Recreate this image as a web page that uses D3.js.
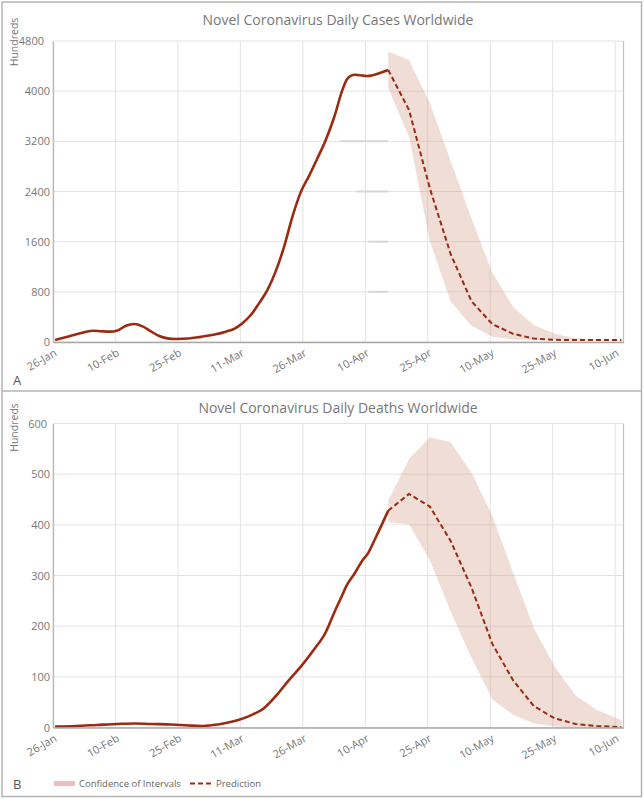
<!DOCTYPE html>
<html><head><meta charset="utf-8">
<script src="https://cdn.jsdelivr.net/npm/d3@7"></script>
<style>
body{margin:0;background:#fff;}
svg{display:block;font-family:"Open Sans",sans-serif;}
</style></head><body>
<svg id="c" width="644" height="799"></svg>
<script>
// ---- data (day index 0 = 26-Jan) ----
const tickDays = [0,15,30,45,60,75,90,105,120,135];
const tickLabels = ["26-Jan","10-Feb","25-Feb","11-Mar","26-Mar","10-Apr","25-Apr","10-May","25-May","10-Jun"];

const casesTicks = [0,800,1600,2400,3200,4000,4800];
const deathsTicks = [0,100,200,300,400,500,600];

const casesDays   = [0,3,6,9,11,13,15,17,19,21,23,25,27,29,32,35,38,41,43,45,47,49,51,53,55,57,59,61,63,65,67,69,70,71,72,74,75,78,80];
const casesValues = [30,85,140,180,172,165,185,260,287,250,170,95,58,48,55,82,115,165,210,300,430,620,830,1130,1520,2000,2390,2650,2930,3222,3580,4020,4180,4245,4262,4248,4243,4290,4338];

const deathsDays   = [0,5,10,15,19,23,28,32,35,38,41,44,47,50,53,56,59,62,65,67,69,70,72,74,75,77,80];
const deathsValues = [2,3,5,7,8,7,6,4,3,5,9,15,24,37,62,92,120,152,188,226,262,280,305,332,342,375,428];

const predDays    = [80,85,90,95,100,105,110,115,120,125,130,135,136];
const casesPred   = [4338,3700,2450,1400,650,285,130,55,35,31,30,30,30];
const casesUpper  = [4630,4498,3808,2888,1969,1103,559,267,132,60,38,30,30];
const casesLower  = [4046,3275,1611,640,260,85,40,30,30,30,30,30,30];

const deathsPred  = [428,461,436,368,276,165,93,42,18,7,3,1,1];
const deathsUpper = [448,530,573,563,503,418,305,196,120,63,35,18,15];
const deathsLower = [405,401,330,229,137,56,25,8,2,0,0,0,0];

// odd darker grid fragments in panel A (value, start day)
const fragValues = [3200,2400,1600,800];
const fragStart  = [68.5,72.3,75.2,75.2];

// ---- drawing ----
const svg = d3.select("#c");
const LINE = "#9c2a10";
const BAND = "rgb(202,142,118)";
const GRID = "#e3e3e3";
const TXT = "#777";

svg.append("rect").attr("x",2).attr("y",2).attr("width",639.5).attr("height",794.5)
  .attr("fill","none").attr("stroke","#b4b4b4").attr("stroke-width",1.5);
svg.append("line").attr("x1",2).attr("x2",641.5).attr("y1",391).attr("y2",391)
  .attr("stroke","#b4b4b4").attr("stroke-width",1.5);

const x = d3.scaleLinear().domain([0,137]).range([53,623.5]);
const px = d => x(d + 0.5);

function panel(o){
  const y = d3.scaleLinear().domain([0, o.ticks[o.ticks.length-1]]).range([o.bottom, o.top]);
  const g = svg.append("g");
  // grid
  g.selectAll(".hg").data(o.ticks).join("line")
    .attr("x1",x(0)).attr("x2",x(137)).attr("y1",d=>y(d)).attr("y2",d=>y(d))
    .attr("stroke",GRID).attr("stroke-width",1);
  g.selectAll(".vg").data(tickDays).join("line")
    .attr("x1",d=>x(d)).attr("x2",d=>x(d)).attr("y1",o.top).attr("y2",o.bottom)
    .attr("stroke",GRID).attr("stroke-width",1);
  if(o.frags){
    g.selectAll(".fr").data(o.frags.v).join("line")
      .attr("x1",(d,i)=>px(o.frags.s[i])).attr("x2",px(predDays[0]))
      .attr("y1",d=>y(d)).attr("y2",d=>y(d))
      .attr("stroke","#d6d6d6").attr("stroke-width",2);
  }
  // right border
  g.append("line").attr("x1",x(137)).attr("x2",x(137)).attr("y1",o.top).attr("y2",o.bottom)
    .attr("stroke","#c4c4c4").attr("stroke-width",1.2);
  // band
  const band = predDays.map((d,i)=>({d, lo:o.lower[i], hi:o.upper[i]}));
  g.append("path").datum(band)
    .attr("d", d3.area().x(p=>px(p.d)).y0(p=>y(p.lo)).y1(p=>y(p.hi)))
    .attr("fill",BAND).attr("fill-opacity",0.3);
  // observed
  const obs = o.days.map((d,i)=>[d,o.values[i]]);
  g.append("path").datum(obs)
    .attr("d", d3.line().x(p=>px(p[0])).y(p=>y(p[1])).curve(d3.curveMonotoneX))
    .attr("fill","none").attr("stroke",LINE).attr("stroke-width",2.6).attr("stroke-linejoin","round");
  // prediction
  const pr = predDays.map((d,i)=>[d,o.pred[i]]);
  g.append("path").datum(pr)
    .attr("d", d3.line().x(p=>px(p[0])).y(p=>y(p[1])))
    .attr("fill","none").attr("stroke",LINE).attr("stroke-width",2).attr("stroke-dasharray","5,3");
  // axes
  const ay = g.append("g").attr("transform",`translate(${x(0)},0)`)
    .call(d3.axisLeft(y).tickValues(o.ticks).tickFormat(d3.format("d")).tickSize(0).tickPadding(3));
  ay.select(".domain").attr("stroke","#b8b8b8").attr("stroke-width",1.3);
  ay.selectAll("text").attr("fill",TXT).style("font-size","11px").style("font-family","'Open Sans',sans-serif");
  ay.selectAll(".tick").filter(d=>d===o.ticks[o.ticks.length-1]).select("text").attr("dx",o.topShift);
  const ax = g.append("g").attr("transform",`translate(0,${o.bottom})`)
    .call(d3.axisBottom(x).tickValues(tickDays).tickFormat((d,i)=>tickLabels[i]).tickSize(0));
  ax.select(".domain").attr("stroke","#a8a8a8").attr("stroke-width",1.5);
  ax.selectAll("text").attr("fill",TXT).style("font-size","11px").style("font-family","'Open Sans',sans-serif")
    .attr("text-anchor","end").attr("dy",0).attr("y",0)
    .attr("transform","translate(4,13) rotate(-30)");
  // y label
  svg.append("text").attr("transform",`translate(18,${o.top+o.labShift}) rotate(-90)`)
    .attr("text-anchor","middle").attr("fill",TXT).style("font-size","10.5px").text("Hundreds");
  // title
  svg.append("text").attr("x",338).attr("y",o.titleY).attr("text-anchor","middle")
    .attr("fill",TXT).style("font-size","14px").text(o.title);
  // panel letter
  svg.append("text").attr("x",13).attr("y",o.letterY).attr("fill","#555")
    .style("font-size","13px").text(o.letter);
}

panel({top:41,bottom:342,ticks:casesTicks,days:casesDays,values:casesValues,
  pred:casesPred,upper:casesUpper,lower:casesLower,
  frags:{v:fragValues,s:fragStart},topShift:-6,labShift:1,
  title:"Novel Coronavirus Daily Cases Worldwide",titleY:25,letter:"A",letterY:385});
panel({top:423.5,bottom:727.5,ticks:deathsTicks,days:deathsDays,values:deathsValues,
  pred:deathsPred,upper:deathsUpper,lower:deathsLower,topShift:-3,labShift:4,
  title:"Novel Coronavirus Daily Deaths Worldwide",titleY:413,letter:"B",letterY:789});

// legend
const lg = svg.append("g");
lg.append("rect").attr("x",54).attr("y",781).attr("width",21).attr("height",5).attr("fill","#f0bcbc");
lg.append("text").attr("x",79).attr("y",786.5).attr("fill","#666").style("font-size","9.5px").text("Confidence of Intervals");
lg.append("line").attr("x1",190).attr("x2",212).attr("y1",783.5).attr("y2",783.5)
  .attr("stroke",LINE).attr("stroke-width",2).attr("stroke-dasharray","5,3");
lg.append("text").attr("x",216).attr("y",786.5).attr("fill","#666").style("font-size","9.5px").text("Prediction");
</script>
</body></html>
